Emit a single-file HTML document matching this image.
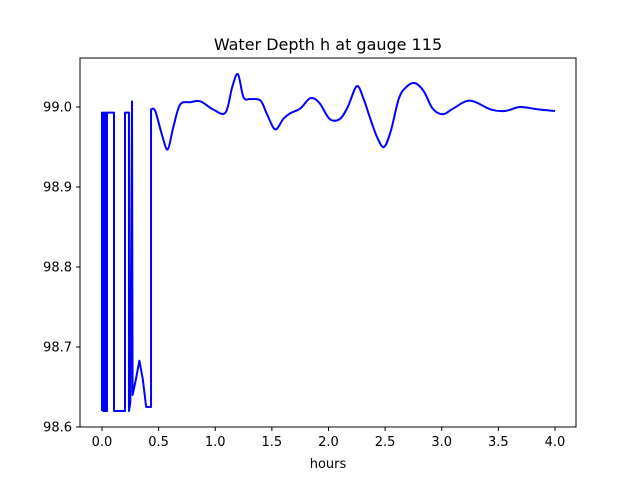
<!DOCTYPE html>
<html><head><meta charset="utf-8"><style>
body{margin:0;background:#fff}
svg{display:block;font-family:"DejaVu Sans","Liberation Sans",sans-serif}
</style></head><body>
<svg width="640" height="480" viewBox="0 0 640 480">
<rect x="0" y="0" width="640" height="480" fill="#fff"/>
<text x="328" y="50" font-size="16" text-anchor="middle">Water Depth h at gauge 115</text>
<g id="xt"></g><g id="yt"></g>
<path id="line" fill="none" stroke="#0000ff" stroke-width="2" stroke-linejoin="round"/>
<rect x="80" y="58" width="496" height="369" fill="none" stroke="#000" stroke-width="1"/>
<text x="328" y="468" font-size="13" text-anchor="middle">hours</text>
</svg>
<script>
const xTicks=[0,0.5,1,1.5,2,2.5,3,3.5,4];
const xTickLabels=["0.0","0.5","1.0","1.5","2.0","2.5","3.0","3.5","4.0"];
const yTicks=[98.6,98.7,98.8,98.9,99.0];
const yTickLabels=["98.6","98.7","98.8","98.9","99.0"];
const stepT=[0,0,0.01,0.01,0.02,0.02,0.03,0.03,0.044,0.044,0.106,0.106,0.203,0.203,0.238,0.238,0.25,0.265,0.27,0.30,0.33,0.36,0.39,0.42,0.433,0.433];
const stepH=[98.62,98.993,98.993,98.62,98.62,98.993,98.993,98.62,98.62,98.993,98.993,98.62,98.62,98.993,98.993,98.62,98.63,99.007,98.64,98.66,98.683,98.66,98.625,98.625,98.625,98.997];
const waveT=[0.433,0.47,0.53,0.58,0.63,0.69,0.78,0.87,0.98,1.09,1.15,1.20,1.25,1.31,1.40,1.46,1.53,1.60,1.66,1.75,1.84,1.92,2.01,2.10,2.17,2.25,2.31,2.37,2.43,2.49,2.55,2.62,2.68,2.76,2.84,2.92,3.01,3.10,3.25,3.43,3.56,3.69,3.85,4.0];
const waveH=[98.997,98.995,98.965,98.947,98.975,99.003,99.006,99.007,98.997,98.993,99.025,99.041,99.012,99.01,99.008,98.99,98.972,98.985,98.992,98.998,99.011,99.005,98.985,98.985,99.0,99.026,99.01,98.985,98.962,98.95,98.97,99.01,99.024,99.03,99.02,98.998,98.991,98.998,99.008,98.997,98.995,99.0,98.997,98.995];
const X=t=>102+t*113.25, Y=h=>107+(99.0-h)*800;
const ns="http://www.w3.org/2000/svg";
const xt=document.getElementById('xt'), yt=document.getElementById('yt');
xTicks.forEach((v,i)=>{
 const l=document.createElementNS(ns,'line');l.setAttribute('x1',X(v));l.setAttribute('x2',X(v));l.setAttribute('y1',427);l.setAttribute('y2',431);l.setAttribute('stroke','#000');
 
 
 xt.appendChild(l);
 const t=document.createElementNS(ns,'text');t.setAttribute('x',X(v));t.setAttribute('y',446);t.setAttribute('font-size','13');t.setAttribute('text-anchor','middle');t.textContent=xTickLabels[i];
 
 
 xt.appendChild(t);
});
yTicks.forEach((v,i)=>{
 const l=document.createElementNS(ns,'line');l.setAttribute('x1',76);l.setAttribute('x2',80);l.setAttribute('y1',Y(v));l.setAttribute('y2',Y(v));l.setAttribute('stroke','#000');
 
 
 yt.appendChild(l);
 const t=document.createElementNS(ns,'text');t.setAttribute('x',72);t.setAttribute('y',Y(v)+4.5);t.setAttribute('font-size','13');t.setAttribute('text-anchor','end');t.textContent=yTickLabels[i];
 
 
 yt.appendChild(t);
});
let d='';
stepT.forEach((t,i)=>{d+=(i?'L':'M')+X(t).toFixed(2)+','+Y(stepH[i]).toFixed(2);});
const P=waveT.map((t,i)=>[X(t),Y(waveH[i])]);
for(let i=0;i<P.length-1;i++){
 const p0=P[Math.max(0,i-1)],p1=P[i],p2=P[i+1],p3=P[Math.min(P.length-1,i+2)];
 const c1=[p1[0]+(p2[0]-p0[0])/6,p1[1]+(p2[1]-p0[1])/6],c2=[p2[0]-(p3[0]-p1[0])/6,p2[1]-(p3[1]-p1[1])/6];
 d+='C'+c1.join(',')+' '+c2.join(',')+' '+p2.join(',');
}
document.getElementById('line').setAttribute('d',d);
</script>
</body></html>
